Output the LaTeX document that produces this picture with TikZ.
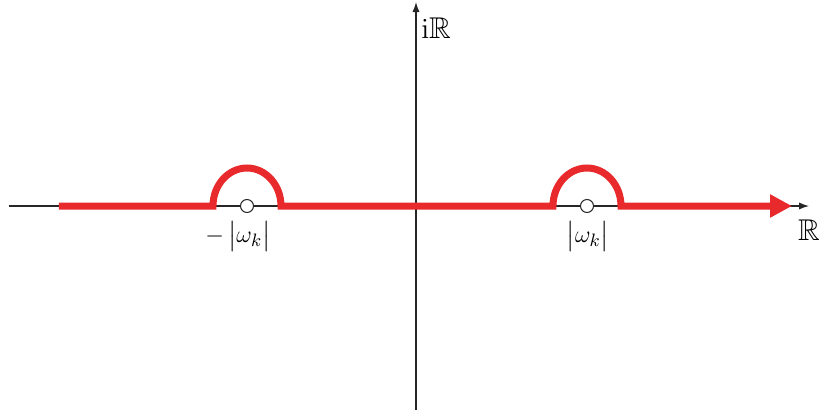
\documentclass[tikz,border=0pt]{standalone}
\usepackage{amsmath}
\usepackage{amssymb}
\usetikzlibrary{arrows.meta}
\definecolor{contourred}{RGB}{232,42,44}

\begin{document}
\begin{tikzpicture}[
    x=0.5pt, y=0.5pt,
    axis/.style={draw=black!85, line width=0.6pt, -{Latex[length=5pt, width=3.6pt]}},
    contour/.style={draw=contourred, line width=3.5pt, -{Triangle[length=11pt, width=11pt]}},
    pole/.style={circle, draw=black!85, fill=white, line width=0.5pt, minimum size=6.5pt, inner sep=0pt},
    lbl/.style={font=\fontsize{15}{18}\selectfont, inner sep=1pt},
    wlbl/.style={font=\fontsize{12.5}{15}\selectfont, inner sep=1pt}
]
    \useasboundingbox (-416,-208) rectangle (403,206);

    % axes
    \coordinate (xmin) at (-407,0);
    \coordinate (xmax) at (393,0);
    \coordinate (ymin) at (0,-204);
    \coordinate (ymax) at (0,204);
    \draw[axis] (xmin) -- (xmax);
    \draw[axis] (ymin) -- (ymax);
    \node[lbl, anchor=west] (imlbl) at (3,178) {$\mathrm{i}\mathbb{R}$};
    \node[lbl] (relbl) at (393,-24) {$\mathbb{R}$};

    % indented contour
    \draw[contour] (-357,0) -- (-203,0) arc[start angle=180, end angle=0, x radius=34, y radius=38]
        -- (137,0) arc[start angle=180, end angle=0, x radius=34, y radius=38] -- (376,0);

    % poles
    \node[pole] (negpole) at (-169,0) {};
    \node[pole] (pospole) at (171,0) {};
    \node[wlbl] (neglbl) at (-178,-30) {${-}\,\bigl|\omega_k\bigr|$};
    \node[wlbl] (poslbl) at (172,-30) {$\bigl|\omega_k\bigr|$};
\end{tikzpicture}
\end{document}
